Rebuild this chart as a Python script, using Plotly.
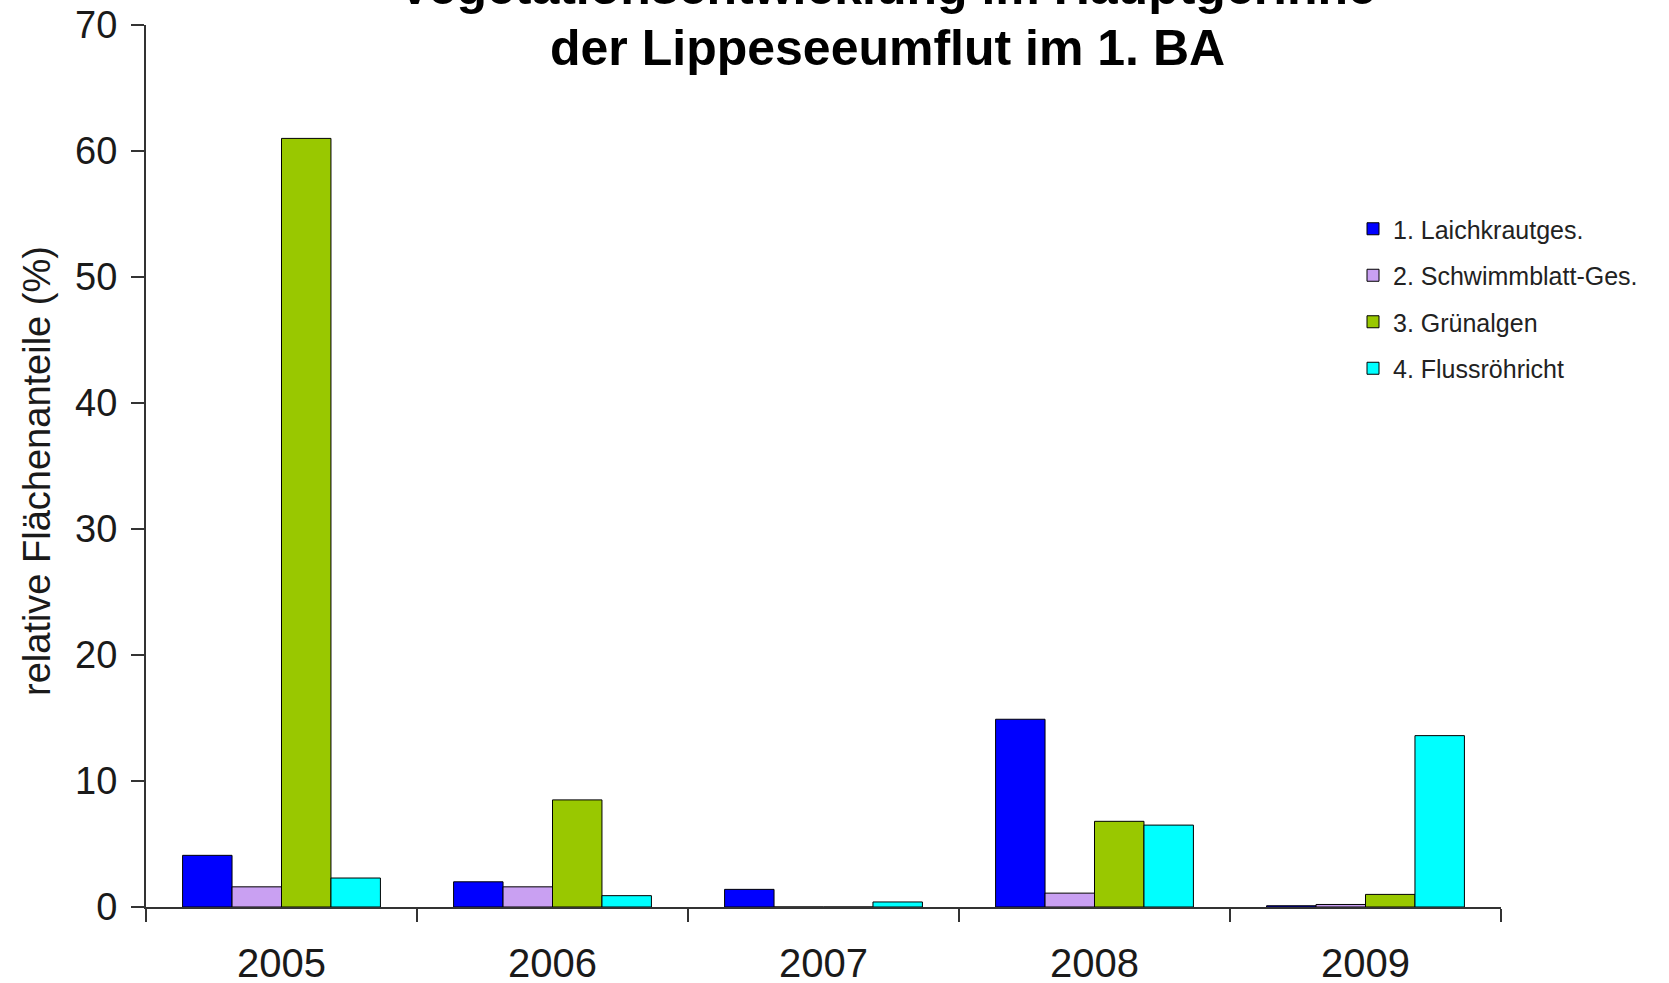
import plotly.graph_objects as go

###
# Daten (relative Flächenanteile in %)
jahre = ["2005", "2006", "2007", "2008", "2009"]
laichkraut = [4.1, 2.0, 1.4, 14.9, 0.1]
schwimmblatt = [1.6, 1.6, 0.0, 1.1, 0.2]
gruenalgen = [61.0, 8.5, 0.0, 6.8, 1.0]
flussroehricht = [2.3, 0.9, 0.4, 6.5, 13.6]

namen = ["1. Laichkrautges.", "2. Schwimmblatt-Ges.", "3. Grünalgen", "4. Flussröhricht"]
farben = ["#0000ff", "#c9a0f2", "#99c800", "#00ffff"]

FONT = "Liberation Sans, Arial, sans-serif"

W, H = 1669, 983
# Plotbereich in Pixeln
L, R, T, B = 146, 1501, 25, 907
PW, PH = R - L, B - T

def px(x):
  return (x - L) / PW

def py(y):
  return (B - y) / PH

fig = go.Figure()
for i, (name, werte, farbe) in enumerate(zip(namen, [laichkraut, schwimmblatt, gruenalgen, flussroehricht], farben)):
  fig.add_trace(go.Bar(
    x = jahre,
    y = werte,
    name = name,
    legendgroup = "g%d" % i,
    marker = dict(color=farbe, line=dict(color="#000000", width=1)),
  ))

fig.update_layout(
  width=W, height=H,
  margin=dict(l=L, r=W - R, t=T, b=H - B, autoexpand=False),
  paper_bgcolor="white", plot_bgcolor="white",
  barmode="group", bargap=0.27, bargroupgap=0,
  font=dict(family=FONT, color="#1a1a1a"),
  showlegend=True,
  legend=dict(
    xref="paper", yref="paper",
    x=px(1353), y=py(206),
    xanchor="left", yanchor="top",
    font=dict(family=FONT, size=25, color="#222222"),
    traceorder="grouped", tracegroupgap=11, itemwidth=30,
    bgcolor="rgba(0,0,0,0)",
  ),
)

fig.update_xaxes(
  type="category", automargin=False,
  showline=True, linecolor="#333333", linewidth=2,
  ticks="outside", tickson="boundaries", ticklen=13, tickwidth=2, tickcolor="#333333",
  tickfont=dict(family=FONT, size=40, color="#1a1a1a"),
  ticklabelstandoff=20, ticklabeloverflow="allow",
  showgrid=False, zeroline=False,
)
fig.update_yaxes(
  range=[0, 70], dtick=10, automargin=False,
  showline=True, linecolor="#333333", linewidth=2,
  ticks="outside", ticklen=13, tickwidth=2, tickcolor="#333333",
  tickfont=dict(family=FONT, size=38, color="#1a1a1a"),
  ticklabelstandoff=6, ticklabeloverflow="allow",
  showgrid=False, zeroline=False,
)

# Titel (erste Zeile am oberen Bildrand abgeschnitten)
fig.add_annotation(text="<b>Vegetationsentwicklung im Hauptgerinne</b>",
                   xref="paper", yref="paper", x=px(887), y=py(-13),
                   xanchor="center", yanchor="middle", showarrow=False,
                   font=dict(family=FONT, size=50, color="#000000"))
fig.add_annotation(text="<b>der Lippeseeumflut im 1. BA</b>",
                   xref="paper", yref="paper", x=px(887), y=py(48),
                   xanchor="center", yanchor="middle", showarrow=False,
                   font=dict(family=FONT, size=50, color="#000000"))
# y-Achsentitel
fig.add_annotation(text="relative Flächenanteile (%)",
                   xref="paper", yref="paper", x=px(37), y=py(471),
                   xanchor="center", yanchor="middle", textangle=-90, showarrow=False,
                   font=dict(family=FONT, size=38, color="#1a1a1a"))

# ohne Seitenrand, damit die Figur genau das Fenster füllt
fig.write_html("out.html", config={"displayModeBar": False},
               post_script="document.body.style.margin='0';")
